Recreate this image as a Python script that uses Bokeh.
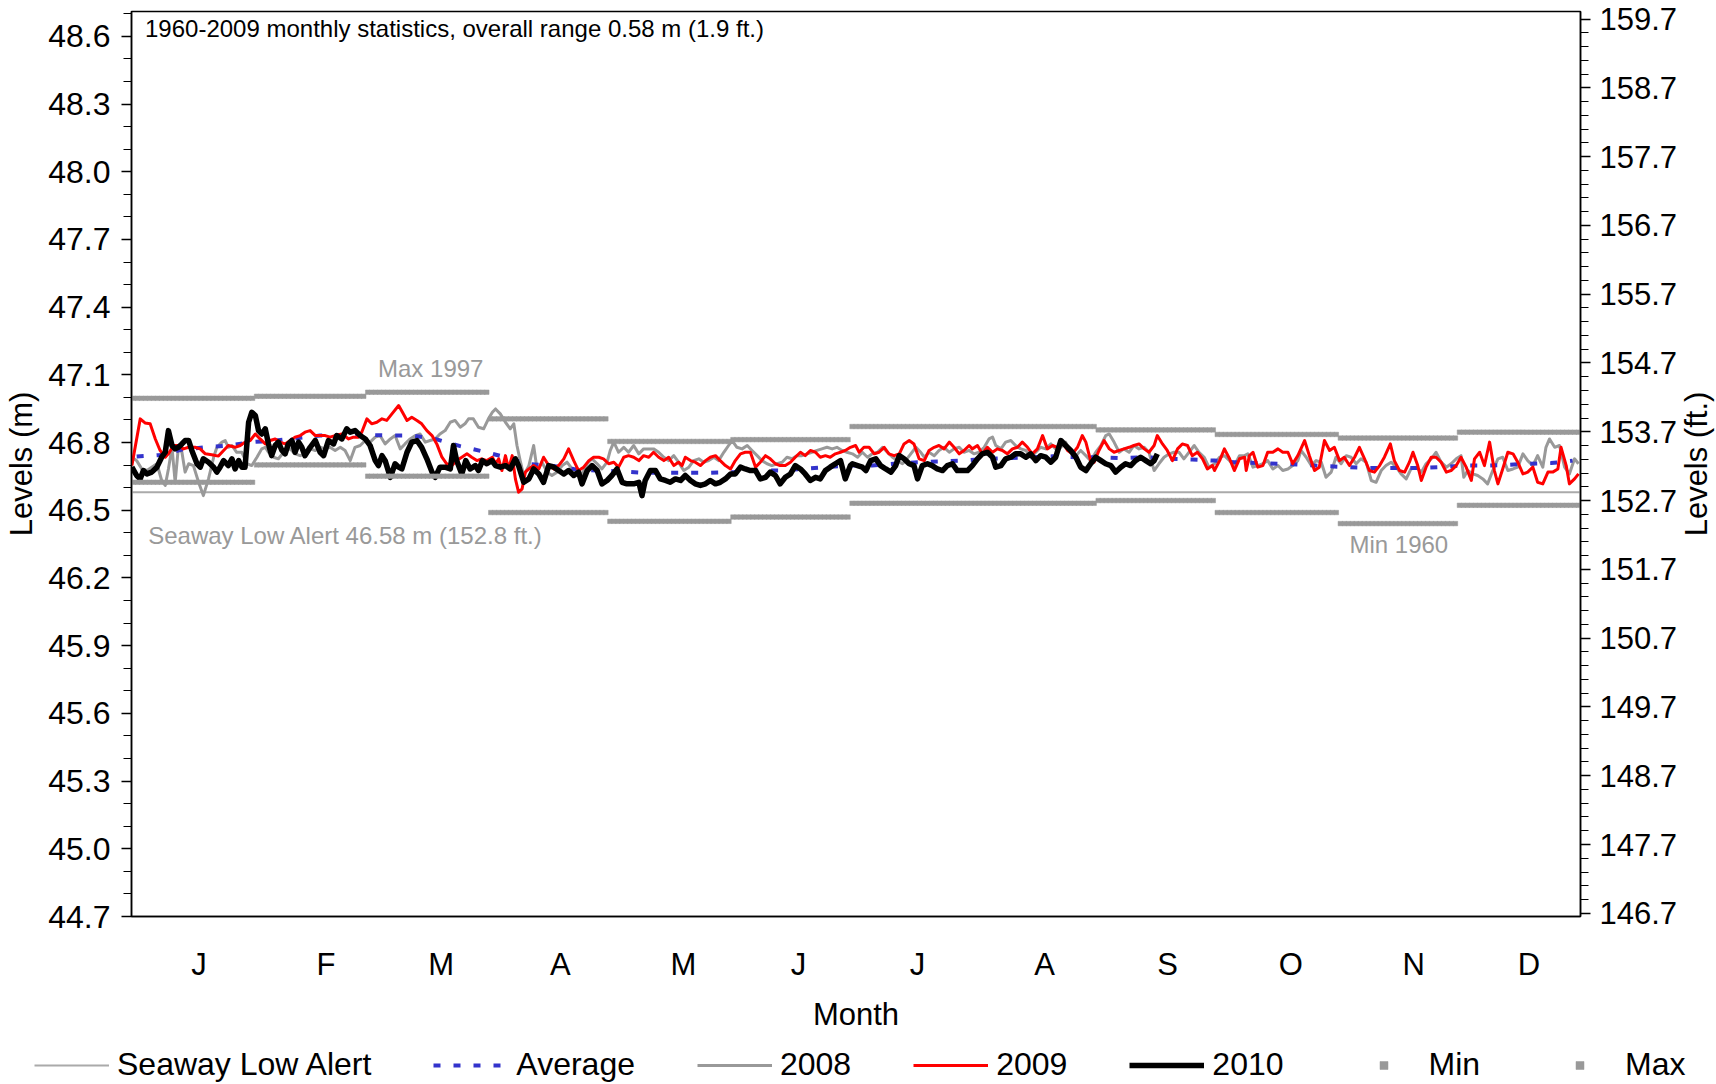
import numpy as np
from bokeh.plotting import figure
from bokeh.layouts import column, row
from bokeh.models import (Range1d, LinearAxis, FixedTicker, PrintfTickFormatter,
                          Label, Legend, LegendItem)
from bokeh.embed import file_html
from bokeh.resources import INLINE

FONT = "Liberation Sans"

# ---------------- data ----------------
month_labels = ["J", "F", "M", "A", "M", "J", "J", "A", "S", "O", "N", "D"]
month_label_days = [17, 49, 78, 108, 139, 168, 198, 230, 261, 292, 323, 352]
month_lengths = [31, 28, 31, 30, 31, 30, 31, 31, 30, 31, 30, 31]

monthly_max = [46.996, 47.005, 47.023, 46.905, 46.805, 46.813,
               46.871, 46.871, 46.856, 46.836, 46.820, 46.846]
monthly_min = [46.624, 46.701, 46.651, 46.490, 46.451, 46.470,
               46.531, 46.531, 46.543, 46.490, 46.441, 46.522]
seaway_low_alert = 46.58

left_ticks = [44.7, 45.0, 45.3, 45.6, 45.9, 46.2, 46.5, 46.8, 47.1, 47.4, 47.7, 48.0, 48.3, 48.6]
right_ticks = [146.7, 147.7, 148.7, 149.7, 150.7, 151.7, 152.7, 153.7, 154.7,
               155.7, 156.7, 157.7, 158.7, 159.7]

day_2008 = [0.1, 1.3, 2.6, 3.9, 5.1, 6.4, 7.6, 8.5, 9.3, 10.2, 11.0, 11.8, 12.7, 13.5, 14.4, 15.6,
            16.9, 18.1, 19.4, 20.7, 21.5, 22.8, 23.6, 24.4, 25.3, 26.5, 27.8, 29.1, 30.3, 31.6,
            32.8, 33.7, 34.5, 35.8, 37.0, 38.7, 40.0, 41.2, 42.5, 43.7, 45.0, 46.3, 47.5, 48.8,
            50.0, 51.3, 52.6, 53.8, 55.1, 56.3, 57.6, 58.9, 60.1, 61.4, 62.6, 63.9, 65.2, 66.4,
            67.7, 68.9, 70.2, 71.5, 72.7, 74.0, 75.2, 76.5, 77.7, 79.0, 80.3, 81.5, 82.8, 84.0,
            84.9, 86.1, 87.4, 88.7, 89.9, 90.9, 91.7, 92.9, 94.2, 95.4, 96.3, 97.1, 98.0, 98.8,
            100.1, 101.3, 102.2, 103.4, 104.7, 105.9, 107.2, 108.5, 109.7, 111.0, 112.2, 113.5,
            114.8, 116.0, 117.3, 118.5, 119.8, 120.6, 121.5, 122.7, 124.0, 125.2, 126.5, 127.8,
            129.0, 130.3, 131.5, 132.8, 134.1, 135.3, 136.6, 137.8, 139.1, 140.4, 141.6, 142.9,
            144.1, 145.4, 146.7, 147.9, 149.2, 150.4, 151.3, 152.5, 153.8, 155.1, 156.3, 157.6,
            158.8, 160.1, 161.3, 162.6, 163.9, 165.1, 166.4, 167.6, 168.9, 170.2, 171.4, 172.7,
            173.9, 175.2, 176.5, 177.7, 179.0, 180.2, 181.6, 182.9, 184.1, 185.4, 186.6, 187.9,
            189.2, 190.4, 191.7, 192.9, 194.2, 195.0, 196.3, 197.6, 198.8, 199.7, 200.9, 202.2,
            203.4, 204.7, 206.0, 207.2, 208.5, 209.7, 211.0, 212.2, 213.5, 214.8, 216.0, 216.9,
            217.7, 219.0, 220.2, 221.5, 222.7, 224.0, 225.3, 226.5, 227.8, 229.0, 230.3, 231.6,
            232.8, 234.1, 235.3, 236.6, 237.9, 239.1, 240.4, 241.6, 242.9, 244.2, 245.4, 246.3,
            247.5, 248.8, 250.0, 251.3, 252.5, 253.8, 255.1, 256.3, 257.6, 258.8, 260.1, 261.4,
            262.6, 263.9, 265.1, 266.4, 267.7, 268.9, 270.2, 271.4, 272.8, 274.1, 275.3, 276.6,
            277.8, 279.1, 280.4, 281.2, 282.5, 283.7, 285.0, 286.2, 287.5, 288.8, 290.0, 291.3,
            292.5, 293.8, 294.6, 295.9, 297.2, 298.4, 299.7, 300.9, 302.2, 303.4, 304.7, 306.0,
            307.2, 308.5, 309.7, 311.0, 312.3, 313.5, 314.8, 316.0, 317.3, 318.6, 319.8, 321.1,
            322.3, 323.6, 324.9, 326.1, 327.4, 328.6, 329.9, 331.2, 332.4, 333.7, 334.9, 335.6,
            336.6, 337.9, 339.1, 340.4, 341.6, 342.9, 344.2, 345.4, 346.7, 348.0, 349.2, 350.5,
            351.7, 353.0, 354.2, 355.5, 356.3, 357.2, 358.5, 359.7, 361.0, 362.2, 363.5, 364.5]
lvl_2008 = [46.735, 46.720, 46.683, 46.676, 46.691, 46.706, 46.632, 46.610, 46.683, 46.779, 46.624,
            46.779, 46.757, 46.669, 46.706, 46.698, 46.624, 46.565, 46.639, 46.735, 46.779, 46.802,
            46.809, 46.779, 46.787, 46.757, 46.757, 46.706, 46.698, 46.735, 46.772, 46.779, 46.757,
            46.735, 46.728, 46.765, 46.772, 46.750, 46.742, 46.750, 46.772, 46.765, 46.779, 46.772,
            46.779, 46.765, 46.779, 46.765, 46.720, 46.779, 46.787, 46.809, 46.802, 46.824, 46.831,
            46.794, 46.816, 46.831, 46.772, 46.794, 46.816, 46.831, 46.838, 46.802, 46.809, 46.816,
            46.838, 46.853, 46.890, 46.898, 46.868, 46.883, 46.905, 46.905, 46.868, 46.861, 46.905,
            46.934, 46.949, 46.927, 46.890, 46.861, 46.883, 46.787, 46.713, 46.654, 46.698, 46.787,
            46.676, 46.713, 46.669, 46.654, 46.669, 46.698, 46.713, 46.683, 46.669, 46.661, 46.706,
            46.728, 46.706, 46.683, 46.713, 46.765, 46.802, 46.757, 46.779, 46.757, 46.787, 46.750,
            46.772, 46.772, 46.772, 46.757, 46.735, 46.720, 46.742, 46.713, 46.676, 46.691, 46.720,
            46.728, 46.713, 46.720, 46.735, 46.720, 46.757, 46.787, 46.809, 46.779, 46.772, 46.787,
            46.765, 46.742, 46.720, 46.706, 46.698, 46.706, 46.713, 46.735, 46.728, 46.742, 46.742,
            46.750, 46.757, 46.765, 46.772, 46.779, 46.772, 46.779, 46.765, 46.757, 46.750, 46.735,
            46.757, 46.735, 46.750, 46.757, 46.779, 46.757, 46.735, 46.720, 46.706, 46.720, 46.750,
            46.779, 46.757, 46.735, 46.757, 46.742, 46.765, 46.779, 46.757, 46.772, 46.779, 46.757,
            46.765, 46.750, 46.757, 46.779, 46.816, 46.824, 46.787, 46.772, 46.802, 46.809, 46.787,
            46.772, 46.765, 46.735, 46.757, 46.779, 46.772, 46.794, 46.772, 46.779, 46.802, 46.757,
            46.742, 46.765, 46.742, 46.720, 46.757, 46.787, 46.831, 46.838, 46.802, 46.757, 46.772,
            46.757, 46.787, 46.772, 46.779, 46.757, 46.676, 46.706, 46.735, 46.750, 46.757, 46.757,
            46.728, 46.757, 46.787, 46.757, 46.735, 46.691, 46.706, 46.735, 46.742, 46.720, 46.698,
            46.742, 46.742, 46.750, 46.691, 46.698, 46.706, 46.720, 46.683, 46.698, 46.676, 46.683,
            46.698, 46.720, 46.765, 46.735, 46.698, 46.720, 46.713, 46.646, 46.669, 46.735, 46.706,
            46.742, 46.735, 46.706, 46.728, 46.713, 46.632, 46.624, 46.676, 46.698, 46.713, 46.691,
            46.661, 46.639, 46.683, 46.691, 46.669, 46.706, 46.728, 46.757, 46.713, 46.691, 46.706,
            46.728, 46.742, 46.646, 46.676, 46.661, 46.654, 46.639, 46.617, 46.676, 46.728, 46.735,
            46.676, 46.683, 46.691, 46.750, 46.720, 46.698, 46.742, 46.691, 46.779, 46.816, 46.779,
            46.787, 46.691, 46.661, 46.728, 46.706]

day_2009 = [0.1, 2.2, 3.4, 4.7, 6.0, 7.2, 8.5, 9.3, 10.6, 11.8, 13.1, 14.4, 16.0, 17.3, 18.6, 20.2,
            21.9, 23.2, 24.4, 26.1, 27.4, 28.6, 29.9, 31.2, 32.4, 33.7, 34.9, 36.2, 37.4, 38.7,
            40.0, 41.2, 42.5, 43.7, 45.0, 46.3, 47.5, 48.8, 50.0, 51.3, 53.0, 54.7, 55.9, 57.2,
            58.0, 59.3, 60.5, 61.8, 63.1, 64.3, 65.6, 67.3, 68.5, 69.4, 70.6, 71.9, 73.1, 74.4,
            75.7, 76.9, 78.2, 79.4, 80.7, 81.9, 83.2, 84.5, 85.7, 87.0, 88.2, 89.5, 90.9, 91.7,
            92.5, 93.3, 94.2, 95.0, 95.9, 96.7, 97.5, 98.4, 99.2, 100.1, 101.3, 102.6, 103.8,
            105.1, 106.4, 107.6, 108.9, 110.1, 111.4, 112.6, 113.9, 115.2, 116.4, 117.7, 118.9,
            120.2, 121.5, 122.7, 124.0, 125.2, 126.5, 127.8, 129.0, 130.3, 131.5, 132.8, 134.1,
            135.3, 136.6, 137.8, 138.7, 139.5, 140.8, 142.0, 143.3, 144.6, 145.8, 147.1, 148.3,
            149.6, 150.9, 152.1, 153.4, 154.6, 155.9, 157.2, 158.4, 159.7, 160.9, 162.2, 163.4,
            164.7, 166.0, 167.2, 168.5, 169.7, 171.0, 172.3, 173.5, 174.8, 176.0, 177.3, 178.6,
            179.8, 181.1, 182.4, 183.3, 184.5, 185.8, 187.1, 188.3, 189.6, 190.8, 192.1, 193.4,
            194.6, 195.9, 197.1, 198.4, 199.7, 200.9, 202.2, 203.4, 204.7, 206.0, 207.2, 208.5,
            209.7, 211.0, 211.8, 213.1, 214.3, 215.6, 216.9, 218.1, 219.4, 220.6, 221.9, 223.2,
            224.4, 225.7, 226.9, 228.2, 229.5, 230.7, 232.0, 233.2, 234.5, 235.8, 237.0, 238.3,
            239.5, 240.4, 241.6, 242.5, 243.7, 245.0, 246.3, 247.5, 248.8, 250.0, 251.3, 252.5,
            253.8, 255.1, 256.3, 257.6, 258.4, 259.7, 260.9, 262.2, 263.5, 264.7, 266.0, 267.2,
            268.5, 269.8, 271.0, 272.3, 272.8, 274.1, 275.3, 276.6, 277.8, 279.1, 280.4, 280.8,
            281.6, 282.5, 283.7, 285.0, 286.2, 287.5, 288.8, 290.0, 291.3, 292.5, 293.8, 295.5,
            296.7, 298.0, 299.2, 300.5, 301.8, 303.0, 304.3, 305.5, 306.8, 308.1, 309.3, 310.6,
            311.8, 313.1, 314.4, 315.6, 317.1, 318.1, 319.4, 320.7, 321.9, 322.8, 324.0, 324.9,
            326.1, 327.4, 328.6, 329.9, 331.2, 332.4, 333.7, 334.9, 336.2, 337.5, 338.3, 339.6,
            340.8, 342.1, 343.3, 344.2, 345.4, 346.7, 348.0, 349.2, 350.5, 351.7, 353.0, 354.2,
            355.5, 356.8, 358.0, 359.3, 360.1, 361.4, 362.2, 363.5, 364.5]
lvl_2009 = [46.698, 46.905, 46.887, 46.883, 46.816, 46.765, 46.735, 46.750, 46.787, 46.787, 46.772,
            46.779, 46.779, 46.772, 46.750, 46.746, 46.740, 46.765, 46.787, 46.779, 46.787, 46.802,
            46.809, 46.838, 46.816, 46.794, 46.809, 46.816, 46.802, 46.794, 46.809, 46.824, 46.831,
            46.846, 46.853, 46.831, 46.831, 46.831, 46.824, 46.831, 46.838, 46.816, 46.824, 46.824,
            46.846, 46.905, 46.883, 46.890, 46.905, 46.898, 46.927, 46.964, 46.927, 46.898, 46.912,
            46.898, 46.883, 46.853, 46.831, 46.794, 46.735, 46.706, 46.698, 46.720, 46.735, 46.750,
            46.735, 46.720, 46.728, 46.720, 46.735, 46.706, 46.728, 46.676, 46.742, 46.683, 46.742,
            46.639, 46.580, 46.595, 46.669, 46.683, 46.698, 46.683, 46.735, 46.698, 46.683, 46.698,
            46.728, 46.772, 46.720, 46.676, 46.691, 46.720, 46.735, 46.735, 46.728, 46.706, 46.713,
            46.691, 46.735, 46.742, 46.735, 46.720, 46.742, 46.735, 46.757, 46.735, 46.720, 46.735,
            46.698, 46.713, 46.698, 46.735, 46.720, 46.713, 46.698, 46.720, 46.735, 46.742, 46.720,
            46.698, 46.683, 46.720, 46.750, 46.757, 46.757, 46.691, 46.713, 46.742, 46.728, 46.706,
            46.698, 46.698, 46.713, 46.735, 46.757, 46.742, 46.765, 46.757, 46.735, 46.742, 46.735,
            46.750, 46.757, 46.765, 46.779, 46.787, 46.757, 46.779, 46.779, 46.750, 46.757, 46.779,
            46.750, 46.742, 46.750, 46.794, 46.809, 46.794, 46.728, 46.720, 46.765, 46.779, 46.787,
            46.772, 46.802, 46.779, 46.750, 46.765, 46.787, 46.772, 46.787, 46.750, 46.779, 46.757,
            46.772, 46.765, 46.750, 46.772, 46.779, 46.802, 46.779, 46.750, 46.772, 46.831, 46.772,
            46.787, 46.779, 46.802, 46.765, 46.750, 46.779, 46.831, 46.802, 46.720, 46.713, 46.765,
            46.809, 46.772, 46.757, 46.765, 46.772, 46.779, 46.787, 46.794, 46.772, 46.757, 46.787,
            46.831, 46.794, 46.765, 46.720, 46.772, 46.794, 46.787, 46.742, 46.757, 46.728, 46.683,
            46.698, 46.676, 46.720, 46.772, 46.728, 46.676, 46.728, 46.735, 46.676, 46.742, 46.757,
            46.691, 46.698, 46.757, 46.757, 46.772, 46.757, 46.757, 46.706, 46.742, 46.809, 46.742,
            46.676, 46.691, 46.809, 46.765, 46.779, 46.720, 46.735, 46.698, 46.735, 46.779, 46.728,
            46.676, 46.669, 46.698, 46.735, 46.794, 46.720, 46.676, 46.669, 46.713, 46.757, 46.698,
            46.632, 46.691, 46.735, 46.735, 46.713, 46.669, 46.676, 46.698, 46.735, 46.691, 46.632,
            46.728, 46.757, 46.698, 46.802, 46.676, 46.617, 46.683, 46.757, 46.750, 46.713, 46.661,
            46.669, 46.691, 46.624, 46.617, 46.669, 46.669, 46.683, 46.779, 46.698, 46.617, 46.639,
            46.661]

day_2010 = [0.1, 1.3, 2.2, 3.0, 3.9, 5.1, 6.4, 7.6, 8.5, 9.3, 10.2, 11.0, 11.8, 12.7, 13.5, 14.4,
            15.2, 16.5, 17.3, 18.1, 19.4, 20.7, 21.5, 22.3, 23.2, 24.4, 25.3, 26.1, 27.0, 27.8,
            28.6, 29.5, 30.3, 31.2, 32.0, 32.8, 33.7, 34.5, 35.3, 36.2, 37.0, 37.9, 38.7, 39.5,
            40.4, 41.2, 42.1, 42.9, 43.7, 45.0, 46.3, 47.5, 48.4, 49.6, 50.9, 51.7, 53.0, 54.2,
            55.1, 56.3, 57.6, 58.9, 60.1, 61.4, 62.2, 63.1, 63.9, 65.2, 66.4, 67.3, 68.1, 69.4,
            70.6, 71.9, 73.1, 74.4, 75.7, 76.5, 77.7, 79.0, 80.3, 81.1, 81.9, 83.2, 84.2, 85.3,
            86.6, 87.4, 88.4, 89.5, 90.8, 91.7, 92.9, 94.2, 95.4, 96.7, 97.5, 98.8, 100.1, 101.3,
            102.6, 103.8, 105.1, 106.4, 107.6, 108.9, 110.1, 111.4, 112.6, 113.5, 114.8, 116.0,
            117.3, 118.5, 119.8, 121.0, 122.3, 123.6, 124.8, 126.5, 127.8, 128.6, 129.4, 130.7,
            132.0, 133.2, 134.5, 135.7, 137.0, 138.3, 139.5, 140.8, 142.0, 143.3, 144.6, 145.8,
            147.1, 148.3, 149.6, 150.9, 152.1, 153.4, 154.6, 155.9, 157.2, 158.4, 159.7, 160.9,
            162.2, 163.4, 164.7, 166.0, 167.2, 168.5, 169.7, 171.0, 172.3, 173.5, 174.8, 176.0,
            177.3, 178.6, 179.8, 181.1, 181.6, 182.9, 184.1, 185.0, 186.2, 187.5, 188.7, 190.0,
            191.3, 192.5, 193.4, 194.6, 195.9, 197.1, 198.0, 199.2, 200.5, 201.7, 203.0, 204.3,
            205.5, 206.8, 208.0, 209.3, 210.6, 211.8, 213.1, 214.3, 215.6, 216.9, 217.7, 219.0,
            220.2, 221.5, 222.7, 224.0, 225.3, 226.5, 227.8, 229.0, 230.3, 231.6, 232.8, 234.1,
            235.3, 236.6, 237.9, 239.1, 240.4, 241.6, 242.9, 244.2, 245.4, 246.7, 247.9, 249.2,
            250.4, 251.7, 252.9, 254.2, 255.5, 256.7, 257.6, 258.4]
lvl_2010 = [46.691, 46.654, 46.639, 46.676, 46.661, 46.669, 46.691, 46.735, 46.757, 46.853, 46.787,
            46.772, 46.779, 46.794, 46.809, 46.809, 46.765, 46.706, 46.691, 46.728, 46.713, 46.691,
            46.669, 46.691, 46.720, 46.698, 46.728, 46.683, 46.720, 46.691, 46.691, 46.890, 46.934,
            46.920, 46.853, 46.838, 46.861, 46.794, 46.742, 46.787, 46.802, 46.765, 46.750, 46.794,
            46.809, 46.757, 46.802, 46.779, 46.742, 46.779, 46.809, 46.757, 46.742, 46.809, 46.794,
            46.831, 46.816, 46.861, 46.846, 46.853, 46.831, 46.816, 46.787, 46.720, 46.698, 46.742,
            46.720, 46.646, 46.706, 46.691, 46.683, 46.757, 46.802, 46.809, 46.779, 46.728, 46.669,
            46.646, 46.691, 46.691, 46.683, 46.787, 46.720, 46.661, 46.720, 46.683, 46.698, 46.676,
            46.720, 46.706, 46.720, 46.698, 46.691, 46.698, 46.683, 46.728, 46.698, 46.624, 46.639,
            46.683, 46.661, 46.624, 46.698, 46.691, 46.676, 46.661, 46.676, 46.654, 46.669, 46.617,
            46.676, 46.698, 46.676, 46.617, 46.632, 46.654, 46.683, 46.624, 46.617, 46.617, 46.624,
            46.565, 46.632, 46.676, 46.676, 46.639, 46.632, 46.624, 46.639, 46.632, 46.654, 46.632,
            46.617, 46.610, 46.617, 46.632, 46.617, 46.624, 46.639, 46.661, 46.661, 46.691, 46.683,
            46.676, 46.676, 46.639, 46.646, 46.669, 46.654, 46.617, 46.646, 46.661, 46.698, 46.683,
            46.661, 46.632, 46.646, 46.639, 46.676, 46.691, 46.706, 46.720, 46.639, 46.698, 46.706,
            46.698, 46.691, 46.676, 46.720, 46.728, 46.698, 46.683, 46.669, 46.698, 46.742, 46.728,
            46.706, 46.698, 46.639, 46.698, 46.706, 46.698, 46.683, 46.676, 46.698, 46.706, 46.676,
            46.676, 46.676, 46.698, 46.728, 46.750, 46.757, 46.735, 46.691, 46.698, 46.728, 46.735,
            46.750, 46.750, 46.735, 46.750, 46.720, 46.742, 46.735, 46.713, 46.735, 46.809, 46.787,
            46.765, 46.735, 46.691, 46.676, 46.706, 46.735, 46.720, 46.706, 46.698, 46.669, 46.691,
            46.706, 46.698, 46.720, 46.735, 46.720, 46.706, 46.720, 46.750]

day_avg = [1.3, 7.2, 12.7, 18.6, 24.4, 30.3, 36.2, 41.6, 47.5, 53.4, 59.3, 65.2, 70.6, 76.5, 82.8,
           88.2, 94.2, 99.6, 105.5, 111.4, 117.3, 122.7, 129.0, 134.5, 139.9, 145.8, 151.7, 157.2,
           163.0, 168.9, 174.8, 180.2, 186.6, 192.0, 198.0, 203.9, 209.3, 215.2, 220.6, 226.5,
           232.0, 238.7, 244.2, 249.6, 255.5, 261.8, 267.2, 272.8, 277.8, 283.7, 289.6, 295.5,
           301.4, 306.4, 312.3, 318.1, 324.0, 329.9, 334.9, 340.8, 346.7, 351.7, 357.6, 363.0]
lvl_avg = [46.738, 46.745, 46.769, 46.779, 46.787, 46.802, 46.809, 46.819, 46.831, 46.831, 46.834,
           46.831, 46.831, 46.816, 46.784, 46.762, 46.735, 46.706, 46.698, 46.683, 46.676, 46.673,
           46.666, 46.666, 46.666, 46.666, 46.669, 46.676, 46.676, 46.683, 46.691, 46.698, 46.698,
           46.706, 46.713, 46.716, 46.720, 46.728, 46.731, 46.735, 46.739, 46.735, 46.735, 46.731,
           46.735, 46.728, 46.725, 46.720, 46.713, 46.709, 46.706, 46.701, 46.695, 46.691, 46.687,
           46.687, 46.687, 46.691, 46.698, 46.698, 46.701, 46.706, 46.709, 46.720]

# ---------------- styles ----------------
ALERT = dict(line_color="#aaaaaa", line_width=2)
S2008 = dict(line_color="#999999", line_width=3, line_join="round")
SAVG = dict(line_color="#3333cc", line_width=4, line_dash="7 13")
S2009 = dict(line_color="#ff0000", line_width=3, line_join="round")
S2010 = dict(line_color="black", line_width=5.5, line_join="round")
SMARK = dict(marker="square", size=4.5, fill_color="#999999", line_color="#9a9a9a", line_width=0.5)

# ---------------- main figure ----------------
Y0, Y1 = 44.7, 48.71
X0, X1 = 0, 365
M2FT = 1 / 0.3048
MAIN_W, MAIN_H = 1680, 1040

p = figure(width=MAIN_W, height=MAIN_H, output_backend="svg", toolbar_location=None,
           x_range=Range1d(X0, X1), y_range=Range1d(Y0, Y1),
           min_border_left=131, min_border_right=100, min_border_top=11, min_border_bottom=124)
p.xgrid.visible = False
p.ygrid.visible = False
p.outline_line_color = "black"
p.outline_line_width = 1.5

# x axis
xa = p.xaxis[0]
xa.ticker = FixedTicker(ticks=month_label_days)
xa.major_label_overrides = {d: m for d, m in zip(month_label_days, month_labels)}
xa.major_tick_out = 0
xa.major_tick_in = 0
xa.minor_tick_out = 0
xa.minor_tick_in = 0
xa.axis_line_color = "black"
xa.axis_line_width = 1.5
xa.major_label_standoff = 30
xa.major_label_text_font = FONT
xa.major_label_text_font_size = "31px"
xa.major_label_text_color = "black"
xa.axis_label = "Month"
xa.axis_label_text_font = FONT
xa.axis_label_text_font_size = "31px"
xa.axis_label_text_font_style = "normal"
xa.axis_label_text_color = "black"
xa.axis_label_standoff = 12

# left axis (metres)
left_minor = [round(v, 1) for v in np.arange(44.8, 48.75, 0.1) if round(v, 1) not in left_ticks]
ya = p.yaxis[0]
ya.ticker = FixedTicker(ticks=left_ticks, minor_ticks=left_minor)
ya.formatter = PrintfTickFormatter(format="%.1f")
ya.major_tick_out = 10
ya.major_tick_in = 0
ya.minor_tick_out = 8
ya.minor_tick_in = 0
ya.major_tick_line_width = 1.5
ya.minor_tick_line_width = 1
ya.axis_line_width = 1.5
ya.major_label_standoff = 11
ya.major_label_text_font = FONT
ya.major_label_text_font_size = "32px"
ya.major_label_text_color = "black"
ya.axis_label = "Levels (m)"
ya.axis_label_text_font = FONT
ya.axis_label_text_font_size = "31px"
ya.axis_label_text_font_style = "normal"
ya.axis_label_text_color = "black"
ya.axis_label_standoff = 6

# right axis (feet)
p.extra_y_ranges = {"ft": Range1d(Y0 * M2FT, Y1 * M2FT)}
right_minor = [round(v, 1) for v in np.arange(146.9, Y1 * M2FT, 0.2)
               if round(v, 1) not in right_ticks]
ra = LinearAxis(y_range_name="ft", ticker=FixedTicker(ticks=right_ticks, minor_ticks=right_minor),
                formatter=PrintfTickFormatter(format="%.1f"))
ra.major_tick_out = 10
ra.major_tick_in = 0
ra.minor_tick_out = 8
ra.minor_tick_in = 0
ra.major_tick_line_width = 1.5
ra.axis_line_width = 1.5
ra.major_label_standoff = 9
ra.major_label_text_font = FONT
ra.major_label_text_font_size = "31px"
ra.major_label_text_color = "black"
p.add_layout(ra, "right")

# monthly min / max markers (one per day of each month)
month_start = np.concatenate([[0], np.cumsum(month_lengths)[:-1]])
min_x, min_y, max_x, max_y = [], [], [], []
for s, n, lo, hi in zip(month_start, month_lengths, monthly_min, monthly_max):
    for k in range(n):
        min_x.append(s + k + 0.5)
        min_y.append(lo)
        max_x.append(s + k + 0.5)
        max_y.append(hi)

p.line([X0, X1], [seaway_low_alert, seaway_low_alert], **ALERT)
p.line(day_2008, lvl_2008, **S2008)
p.line(day_avg, lvl_avg, **SAVG)
p.line(day_2009, lvl_2009, **S2009)
p.line(day_2010, lvl_2010, **S2010)
p.scatter(min_x, min_y, **SMARK)
p.scatter(max_x, max_y, **SMARK)

p.add_layout(Label(x=3.4, y=48.634, text="1960-2009 monthly statistics, overall range 0.58 m (1.9 ft.)",
                   text_font=FONT, text_font_size="24px", text_color="black", text_baseline="middle"))
p.add_layout(Label(x=62.1, y=47.130, text="Max 1997", text_font=FONT, text_font_size="24px",
                   text_color="#999999", text_baseline="middle"))
p.add_layout(Label(x=4.2, y=46.389, text="Seaway Low Alert 46.58 m (152.8 ft.)", text_font=FONT,
                   text_font_size="24px", text_color="#999999", text_baseline="middle"))
p.add_layout(Label(x=306.8, y=46.349, text="Min 1960", text_font=FONT, text_font_size="24px",
                   text_color="#999999", text_baseline="middle"))

# ---------------- right strip carrying the feet axis title ----------------
STRIP_W = 1716 - MAIN_W
ps = figure(width=STRIP_W, height=MAIN_H, output_backend="svg", toolbar_location=None,
            x_range=Range1d(0, 1), y_range=Range1d(Y0, Y1),
            x_axis_location=None, y_axis_location=None,
            min_border_left=0, min_border_right=0, min_border_top=11, min_border_bottom=124)
ps.grid.visible = False
ps.outline_line_color = None
ps.add_layout(Label(x=0.45, y=(Y0 + Y1) / 2, text="Levels (ft.)", angle=np.pi / 2,
                    text_font=FONT, text_font_size="31px", text_color="black",
                    text_align="center", text_baseline="middle"))

# ---------------- legend strip ----------------
LEG_H = 1084 - MAIN_H
pl = figure(width=1716, height=LEG_H, output_backend="svg", toolbar_location=None,
            x_range=Range1d(0, 1), y_range=Range1d(0, 1),
            x_axis_location=None, y_axis_location=None,
            min_border_left=0, min_border_right=0, min_border_top=0, min_border_bottom=0)
pl.grid.visible = False
pl.outline_line_color = None
# legend proxies: styled like the plotted series, placed outside the strip's visible range
proxy_x, proxy_y = [5, 6], [5, 5]
l_alert = pl.line(proxy_x, proxy_y, **ALERT)
l_avg = pl.line(proxy_x, proxy_y, **SAVG)
l_2008 = pl.line(proxy_x, proxy_y, **S2008)
l_2009 = pl.line(proxy_x, proxy_y, **S2009)
l_2010 = pl.line(proxy_x, proxy_y, **S2010)
l_min = pl.scatter(proxy_x, proxy_y, **SMARK)
l_max = pl.scatter(proxy_x, proxy_y, **SMARK)
legend = Legend(items=[LegendItem(label="Seaway Low Alert", renderers=[l_alert]),
                       LegendItem(label="Average", renderers=[l_avg]),
                       LegendItem(label="2008", renderers=[l_2008]),
                       LegendItem(label="2009", renderers=[l_2009]),
                       LegendItem(label="2010", renderers=[l_2010]),
                       LegendItem(label="Min", renderers=[l_min]),
                       LegendItem(label="Max", renderers=[l_max])],
                location=(34, 1), orientation="horizontal", spacing=62,
                glyph_width=75, glyph_height=20, label_standoff=8, padding=0, margin=0,
                border_line_color=None, background_fill_alpha=0,
                label_text_font=FONT, label_text_font_size="32px", label_text_color="black")
pl.add_layout(legend, "center")

layout = column(row(p, ps), pl)
open("out.html", "w").write(file_html(layout, INLINE))
